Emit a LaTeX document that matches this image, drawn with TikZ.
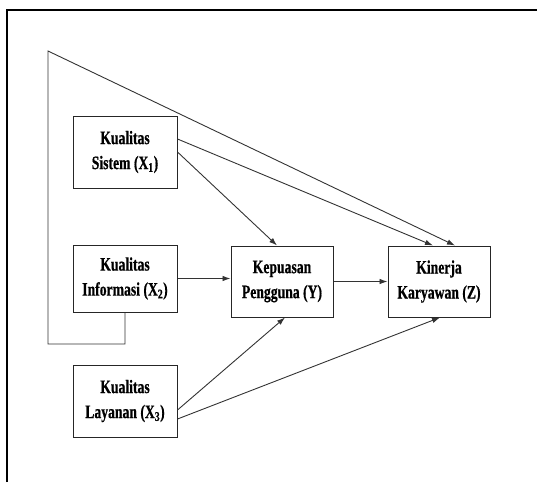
\documentclass[tikz,border=0pt]{standalone}
\usepackage{fontspec}
\newfontfamily\boxfont[FakeStretch=0.72,FakeBold=0.6]{Liberation Serif Bold}
\usetikzlibrary{arrows.meta}
\begin{document}
\begin{tikzpicture}[x=1pt,y=-1pt,
  varbox/.style={draw=black!85,line width=1pt,minimum width=104pt,minimum height=72pt,align=center,inner sep=0pt,
    font=\boxfont\fontsize{19}{25}\selectfont},
  arr/.style={draw=black!80,line width=0.9pt,-{Latex[length=8pt,width=5.5pt]}}]
\useasboundingbox (0,0) rectangle (537,482);
\draw[line width=2.5pt] (7,482) -- (7,10) -- (537,10);
\node[varbox] (X1) at (125,152) {Kualitas\\Sistem (X\textsubscript{1})};
\node[varbox,minimum height=67pt] (X2) at (125,278.5) {Kualitas\\Informasi (X\textsubscript{2})};
\node[varbox] (X3) at (125,401) {Kualitas\\Layanan (X\textsubscript{3})};
\node[varbox,minimum width=102pt,minimum height=71pt] (Y) at (282,281.5) {Kepuasan\\Pengguna (Y)};
\node[varbox,minimum width=102pt,minimum height=71pt] (Z) at (439,281.5) {Kinerja\\Karyawan (Z)};
\coordinate (fbBottom) at (48,344);
\coordinate (fbTop) at (48,51);
\draw[arr] (X2.south) |- (fbBottom) -- (fbTop) -- ([xshift=16pt]Z.north);
\draw[arr] ([yshift=13pt]X1.east) -- ([xshift=-6pt]Z.north);
\draw[arr] (X1.east) -- ([xshift=-5pt]Y.north);
\draw[arr] (X2.east) -- (Y.west |- X2.east);
\draw[arr] (Y.east) -- (Z.west);
\draw[arr] ([yshift=-9pt]X3.east) -- ([xshift=3pt]Y.south);
\draw[arr] ([yshift=-18pt]X3.east) -- ([xshift=1pt]Z.south);
\end{tikzpicture}
\end{document}
